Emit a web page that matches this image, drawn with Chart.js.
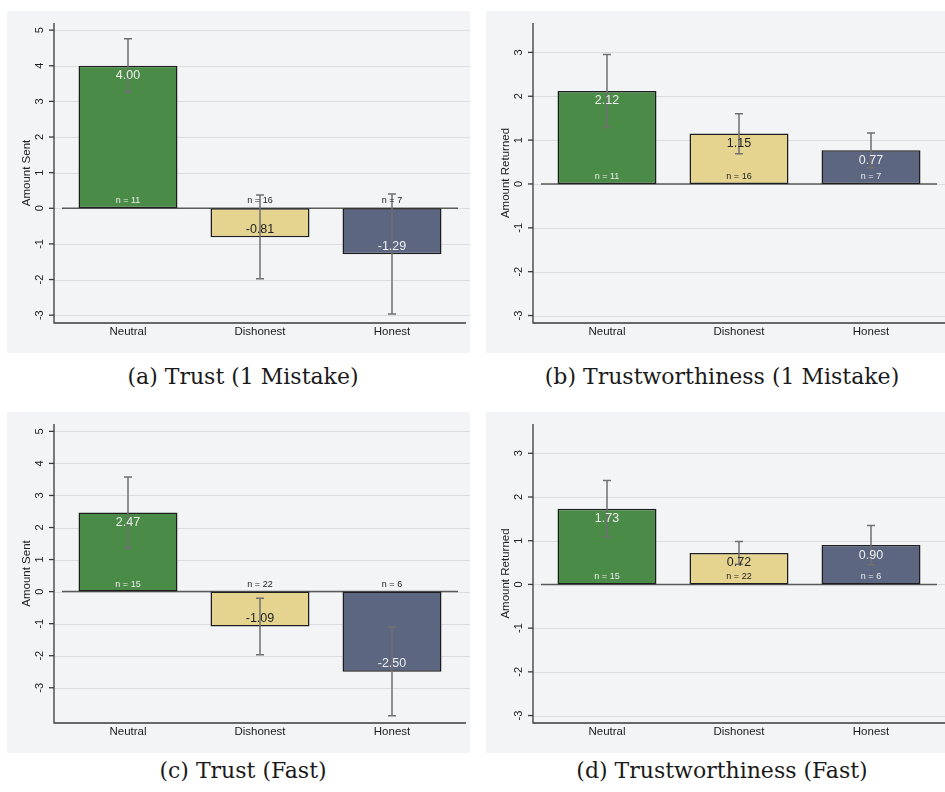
<!DOCTYPE html>
<html lang="en">
<head>
    <meta charset="UTF-8">
    <title>Trust and Trustworthiness</title>
    <script src="https://cdn.jsdelivr.net/npm/chart.js"></script>
    <style>
        body { margin: 0; background: #ffffff; width: 945px; height: 792px; position: relative; overflow: hidden; }
        canvas { position: absolute; }
        .cap { position: absolute; width: 420px; text-align: center; font: 22px "DejaVu Serif", serif; line-height: 22px; color: #1a1a1a; }
    </style>
</head>
<body>
    <canvas id="trust1" width="463" height="342" style="left:7px;top:11px"></canvas>
    <canvas id="return1" width="459" height="342" style="left:486px;top:11px"></canvas>
    <canvas id="trustFast" width="463" height="341" style="left:7px;top:412px"></canvas>
    <canvas id="returnFast" width="459" height="341" style="left:486px;top:412px"></canvas>
    <div class="cap" style="left:33px;top:366px">(a) Trust (1 Mistake)</div>
    <div class="cap" style="left:512px;top:366px">(b) Trustworthiness (1 Mistake)</div>
    <div class="cap" style="left:33px;top:760px">(c) Trust (Fast)</div>
    <div class="cap" style="left:512px;top:760px">(d) Trustworthiness (Fast)</div>

    <script>
        const categories = ["Neutral", "Dishonest", "Honest"];

        const trust1Means = [4.00, -0.81, -1.29];
        const trust1Low = [3.26, -1.98, -2.97];
        const trust1High = [4.76, 0.37, 0.40];
        const trust1N = [11, 16, 7];

        const return1Means = [2.12, 1.15, 0.77];
        const return1Low = [1.29, 0.69, 0.37];
        const return1High = [2.95, 1.60, 1.16];
        const return1N = [11, 16, 7];

        const trustFastMeans = [2.47, -1.09, -2.50];
        const trustFastLow = [1.36, -1.97, -3.87];
        const trustFastHigh = [3.58, -0.21, -1.11];
        const trustFastN = [15, 22, 6];

        const returnFastMeans = [1.73, 0.72, 0.90];
        const returnFastLow = [1.09, 0.46, 0.45];
        const returnFastHigh = [2.38, 0.98, 1.35];
        const returnFastN = [15, 22, 6];

        const trustTicks = [-3, -2, -1, 0, 1, 2, 3, 4, 5];
        const returnTicks = [-3, -2, -1, 0, 1, 2, 3];

        const barColors = ["#4a8b47", "#e5d490", "#5c6681"];
        const labelColors = ["#eeeeee", "#222222", "#eeeeee"];
        const FONT = '"Liberation Sans", Arial, sans-serif';

        // draws the Stata-like frame: grid, zero line, error bars, labels, axes
        function stataPlugin(p) {
            return {
                id: "stata",
                beforeDatasetsDraw(chart) {
                    let ctx = chart.ctx, a = chart.chartArea, y = chart.scales.y;
                    ctx.save();
                    ctx.strokeStyle = "#dcdde3";
                    ctx.lineWidth = 1;
                    p.ticks.forEach(v => {
                        let py = Math.round(y.getPixelForValue(v)) + 0.5;
                        ctx.beginPath();
                        ctx.moveTo(p.axisX, py);
                        ctx.lineTo(chart.width, py);
                        ctx.stroke();
                    });
                    let y0 = y.getPixelForValue(0);
                    ctx.strokeStyle = "#5a5a5a";
                    ctx.lineWidth = 1.5;
                    ctx.beginPath();
                    ctx.moveTo(a.left, y0);
                    ctx.lineTo(a.right, y0);
                    ctx.stroke();
                    ctx.restore();
                },
                afterDatasetsDraw(chart) {
                    let ctx = chart.ctx, a = chart.chartArea, y = chart.scales.y;
                    let bars = chart.getDatasetMeta(0).data;
                    let y0 = y.getPixelForValue(0);
                    ctx.save();

                    // error bars
                    ctx.strokeStyle = "#707070";
                    ctx.lineWidth = 1.5;
                    bars.forEach((b, i) => {
                        let lo = y.getPixelForValue(p.low[i]), hi = y.getPixelForValue(p.high[i]);
                        ctx.beginPath();
                        ctx.moveTo(b.x, lo); ctx.lineTo(b.x, hi);
                        ctx.moveTo(b.x - 4, lo); ctx.lineTo(b.x + 4, lo);
                        ctx.moveTo(b.x - 4, hi); ctx.lineTo(b.x + 4, hi);
                        ctx.stroke();
                    });

                    // value and n labels
                    ctx.textAlign = "center";
                    ctx.textBaseline = "middle";
                    bars.forEach((b, i) => {
                        let v = p.means[i];
                        ctx.font = "12.5px " + FONT;
                        ctx.fillStyle = labelColors[i];
                        let ty = v >= 0 ? b.y + 10 : b.y - 8;
                        ctx.fillText(v.toFixed(2), b.x, ty);
                        ctx.font = "9px " + FONT;
                        ctx.fillStyle = v >= 0 ? labelColors[i] : "#222222";
                        ctx.fillText("n = " + p.n[i], b.x, y0 - 7.5);
                    });

                    // y axis, ticks, tick labels, title
                    ctx.strokeStyle = "#3a3a3a";
                    ctx.lineWidth = 1.3;
                    ctx.beginPath();
                    ctx.moveTo(p.axisX, a.top);
                    ctx.lineTo(p.axisX, a.bottom);
                    ctx.lineTo(chart.width - p.gridGap, a.bottom);
                    ctx.stroke();
                    ctx.fillStyle = "#222222";
                    ctx.font = "11px " + FONT;
                    p.ticks.forEach(v => {
                        let py = y.getPixelForValue(v);
                        ctx.beginPath();
                        ctx.moveTo(p.axisX - 5, py);
                        ctx.lineTo(p.axisX, py);
                        ctx.stroke();
                        ctx.save();
                        ctx.translate(32.5, py);
                        ctx.rotate(-Math.PI / 2);
                        ctx.fillText(String(v), 0, 0);
                        ctx.restore();
                    });
                    ctx.font = "11.5px " + FONT;
                    ctx.translate(19.5, (a.top + a.bottom) / 2);
                    ctx.rotate(-Math.PI / 2);
                    ctx.fillText(p.title, 0, 0);
                    ctx.restore();
                }
            };
        }

        function makePanel(id, p) {
            let canvas = document.getElementById(id);
            let w = canvas.width, h = canvas.height;
            new Chart(canvas, {
                type: "bar",
                data: {
                    labels: categories,
                    datasets: [{
                        data: p.means,
                        backgroundColor: barColors,
                        borderColor: "#1e1e1e",
                        borderWidth: 1.5,
                        borderSkipped: false,
                        categoryPercentage: 1,
                        barPercentage: 0.75
                    }]
                },
                options: {
                    responsive: false,
                    animation: false,
                    devicePixelRatio: 1,
                    layout: { padding: { left: 0, right: w - 451, top: 12, bottom: 0 } },
                    plugins: { legend: { display: false }, tooltip: { enabled: false } },
                    scales: {
                        x: {
                            grid: { display: false, drawTicks: false },
                            border: { display: false },
                            ticks: { color: "#1a1a1a", font: { family: FONT, size: 11.5 }, padding: 2 },
                            afterFit: s => { s.height = h - p.bottom; }
                        },
                        y: {
                            min: p.min,
                            max: p.max,
                            grid: { display: false, drawTicks: false },
                            border: { display: false },
                            ticks: { display: false },
                            afterFit: s => { s.width = 55; }
                        }
                    }
                },
                plugins: [stataPlugin(p)]
            });
        }

        document.body.style.background = "#ffffff";
        ["trust1", "return1", "trustFast", "returnFast"].forEach(id => {
            document.getElementById(id).style.background = "#f3f4f6";
        });

        makePanel("trust1", { means: trust1Means, low: trust1Low, high: trust1High, n: trust1N,
            ticks: trustTicks, min: -3.22, max: 5.2, title: "Amount Sent", axisX: 47, gridGap: 4, bottom: 312 });
        makePanel("return1", { means: return1Means, low: return1Low, high: return1High, n: return1N,
            ticks: returnTicks, min: -3.17, max: 3.67, title: "Amount Returned", axisX: 47, gridGap: 0, bottom: 312 });
        makePanel("trustFast", { means: trustFastMeans, low: trustFastLow, high: trustFastHigh, n: trustFastN,
            ticks: trustTicks, min: -4.1, max: 5.23, title: "Amount Sent", axisX: 47, gridGap: 4, bottom: 311 });
        makePanel("returnFast", { means: returnFastMeans, low: returnFastLow, high: returnFastHigh, n: returnFastN,
            ticks: returnTicks, min: -3.17, max: 3.67, title: "Amount Returned", axisX: 47, gridGap: 0, bottom: 311 });
    </script>
</body>
</html>
